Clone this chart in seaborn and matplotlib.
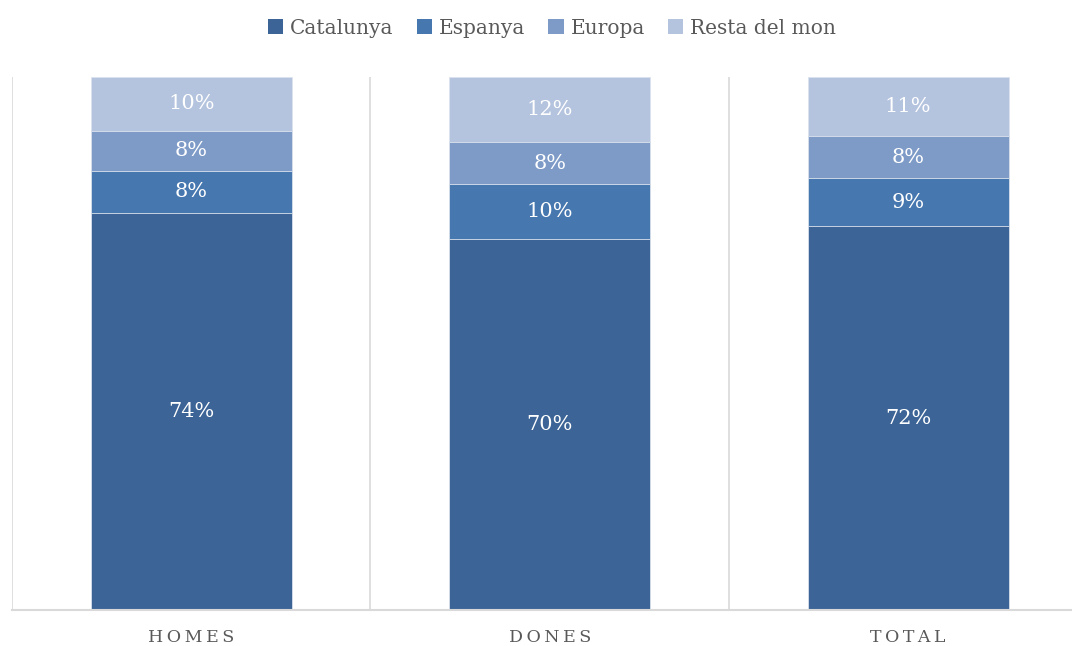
import matplotlib
matplotlib.use("Agg")
import matplotlib.pyplot as plt
from matplotlib.patches import Patch
import seaborn as sns
import pandas as pd
import numpy as np

categories = ["HOMES", "DONES", "TOTAL"]
series = ["Catalunya", "Espanya", "Europa", "Resta del mon"]
catalunya = [74.5, 69.6, 72.0]
espanya = [7.9, 10.3, 9.0]
europa = [7.5, 7.9, 7.9]
resta = [10.1, 12.2, 11.1]
colors = ["#3C6496", "#4677AF", "#7E9BC8", "#B4C3DE"]

sns.set_theme(style="white")
plt.rcParams["font.family"] = ["DejaVu Serif"]

values = np.array([catalunya, espanya, europa, resta])
cum = values.cumsum(axis=0)

fig = plt.figure(figsize=(10.72, 6.46), dpi=100)
ax = fig.add_axes([0.0112, 0.0557, 0.9888, 0.8251])

# overlay cumulative bars, tallest first
for i in range(len(series) - 1, -1, -1):
    df = pd.DataFrame({"cat": categories, "val": cum[i]})
    sns.barplot(data=df, x="cat", y="val", color=colors[i], width=0.56,
                saturation=1, edgecolor="#DCE3EE", linewidth=0.6, ax=ax)

for j in range(len(categories)):
    for i in range(len(series)):
        mid = cum[i, j] - values[i, j] / 2
        ax.text(j, mid, f"{values[i, j]:.0f}%", ha="center", va="center",
                color="white", fontsize=15)

ax.set_xlabel("")
ax.set_ylabel("")
ax.set_yticks([])
ax.set_xticks(range(len(categories)))
ax.set_xticklabels(["\u2009".join(c) for c in categories], color="#595959",
                   fontsize=12.5)
ax.tick_params(axis="x", length=0, pad=14)
# category separators (Excel style)
ax.set_xticks([-0.5, 0.5, 1.5, 2.5], minor=True)
ax.tick_params(axis="x", which="minor", length=0)
ax.grid(which="minor", axis="x", color="#D9D9D9", linewidth=1.2)
ax.set_axisbelow(True)
ax.set_ylim(0, 100)
ax.set_xlim(-0.5, 2.457)
for s in ["top", "right", "left"]:
    ax.spines[s].set_visible(False)
ax.spines["bottom"].set_color("#D9D9D9")
ax.spines["bottom"].set_linewidth(1.5)

handles = [Patch(facecolor=c, edgecolor="none") for c in colors]
fig.legend(handles, series, loc="upper center", bbox_to_anchor=(0.515, 0.999),
           ncol=4, frameon=False, fontsize=14.5, handlelength=0.75,
           handleheight=0.75, handletextpad=0.35, columnspacing=1.15,
           labelcolor="#595959")

fig.savefig("out.png", dpi=100)
